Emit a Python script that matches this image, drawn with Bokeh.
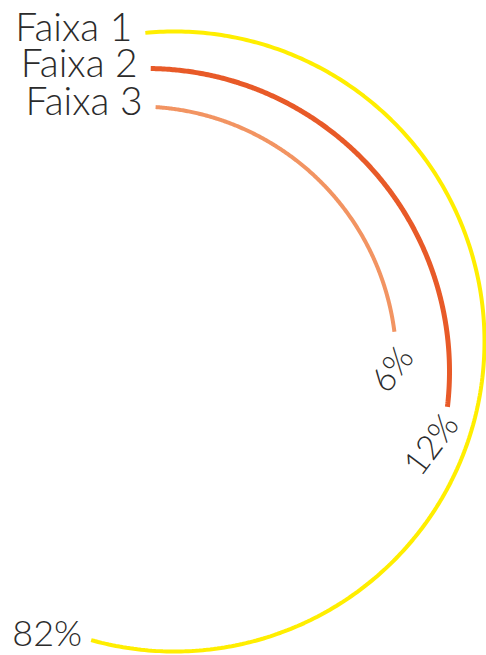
import numpy as np
from bokeh.plotting import figure
from bokeh.models import ColumnDataSource, Range1d
from bokeh.core.properties import value
from bokeh.embed import file_html
from bokeh.resources import INLINE

# ---- data ----
categories = ["Faixa 1", "Faixa 2", "Faixa 3"]
shares = [82, 12, 6]
share_labels = ["82%", "12%", "6%"]

# ---- layout (reference pixel space, y downwards) ----
ring_cx = [174, 146, 138]
ring_cy = [341, 371, 364]
ring_r = [310, 303, 258]
ring_start = [-5.4, 0.8, 3.8]          # degrees clockwise from 12 o'clock
ring_colors = ["#FFEE00", "#E85A28", "#F29462"]
ring_widths = [4, 5, 4]
rot_label_offset = [(2, 10), (10, 18)]  # for rings 2 and 3

def sweep(v):
    # non-linear angular scale used by the original infographic
    return 44.6 + 12.14 * v ** 0.58

W, H = 486, 655
p = figure(width=W, height=H, output_backend="svg", toolbar_location=None,
           x_range=Range1d(0, W), y_range=Range1d(-H, 0),
           min_border=0)
p.axis.visible = False
p.grid.visible = False
p.outline_line_color = None
p.background_fill_color = "white"
p.border_fill_color = "white"

font = value("'Lato Light', Lato")
txt_color = "#2b2b2b"

end_pts = []
start_pts = []
for i, v in enumerate(shares):
    a0 = ring_start[i]
    a1 = a0 + sweep(v)
    th = np.radians(np.linspace(a0, a1, 300))
    xs = ring_cx[i] + ring_r[i] * np.sin(th)
    ys = ring_cy[i] - ring_r[i] * np.cos(th)
    src = ColumnDataSource(dict(x=xs, y=-ys))
    p.line("x", "y", source=src, line_color=ring_colors[i],
           line_width=ring_widths[i], line_cap="butt")
    start_pts.append((xs[0], ys[0]))
    end_pts.append((xs[-1], ys[-1]))

# category labels at the start of each ring
cat_src = ColumnDataSource(dict(
    x=[s[0] - 13 for s in start_pts],
    y=[-(s[1] - 7) for s in start_pts],
    t=categories))
p.text("x", "y", text="t", source=cat_src, text_font=font,
       text_font_size="39px", text_color=txt_color,
       text_align="right", text_baseline="alphabetic")

# largest share: horizontal label left of arc end
p.text(x=[end_pts[0][0] - 9], y=[-(end_pts[0][1] - 8)], text=[share_labels[0]],
       text_font=font, text_font_size="36px", text_color=txt_color,
       text_align="right", text_baseline="alphabetic")

# smaller shares: rotated labels below arc ends
rot_src = ColumnDataSource(dict(
    x=[end_pts[i][0] + rot_label_offset[k][0] for k, i in enumerate((1, 2))],
    y=[-(end_pts[i][1] + rot_label_offset[k][1]) for k, i in enumerate((1, 2))],
    t=[share_labels[1], share_labels[2]]))
p.text("x", "y", text="t", source=rot_src, text_font=font,
       text_font_size="34px", text_color=txt_color, angle=np.radians(53),
       text_align="right", text_baseline="alphabetic")

open("out.html", "w").write(file_html(p, INLINE))
